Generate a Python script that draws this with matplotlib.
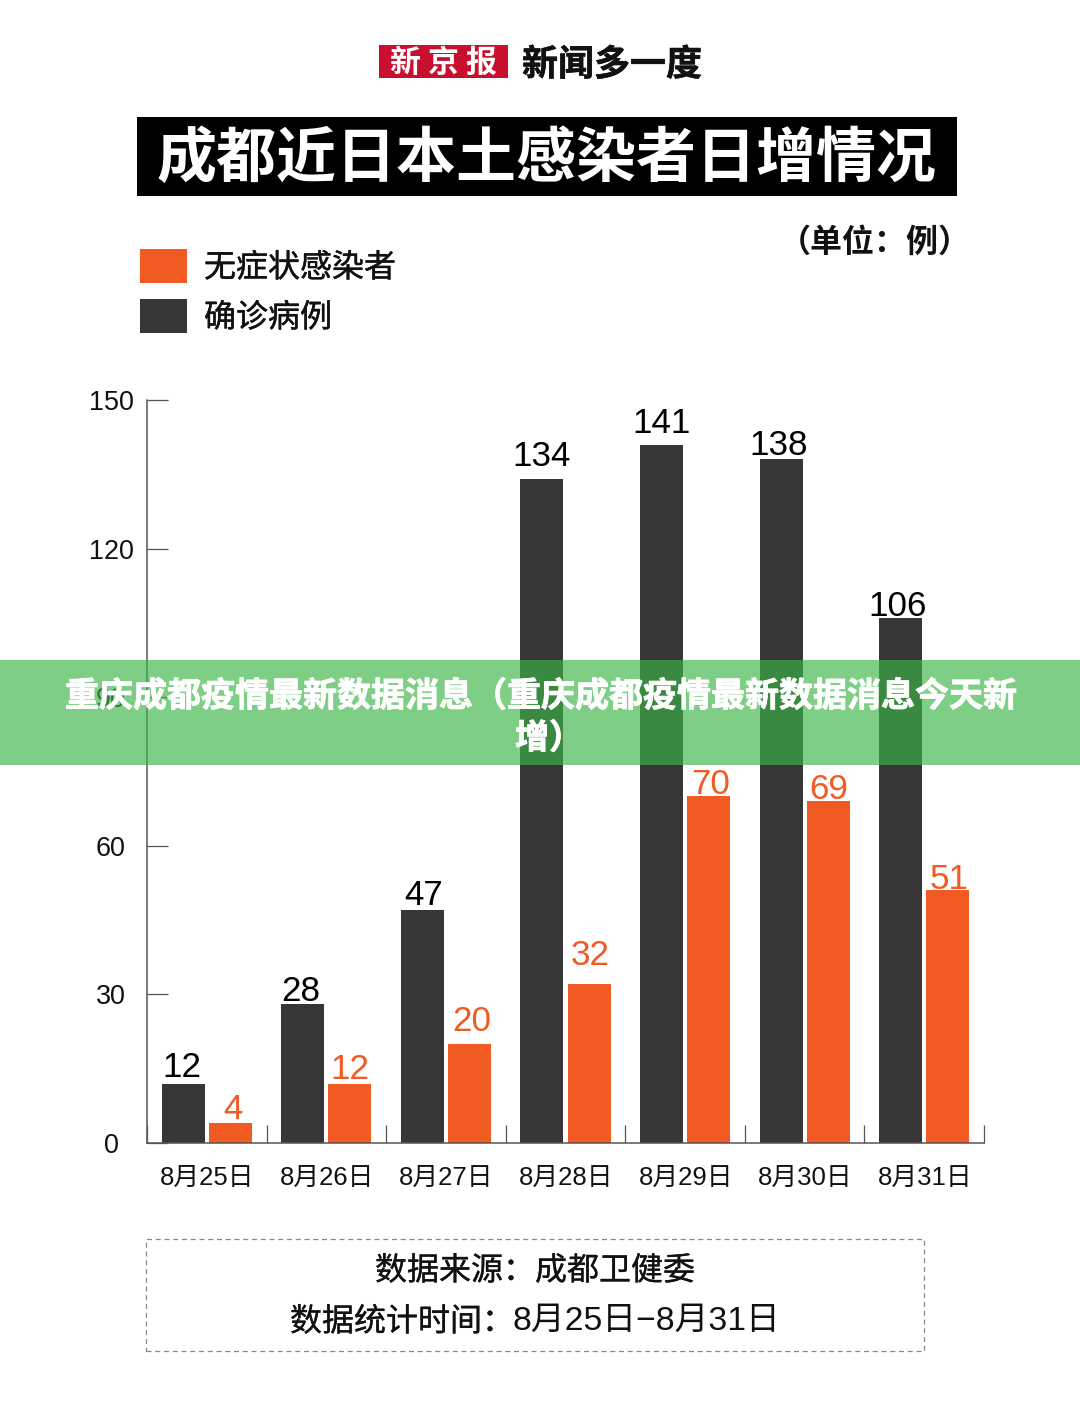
import matplotlib
matplotlib.use('Agg')
import matplotlib.pyplot as plt
import matplotlib.patheffects as pe
from matplotlib.patches import Rectangle
import numpy as np

dates = ['8月25日', '8月26日', '8月27日', '8月28日', '8月29日', '8月30日', '8月31日']
confirmed = [12, 28, 47, 134, 141, 138, 106]
asymptomatic = [4, 12, 20, 32, 70, 69, 51]
y_ticks = [0, 30, 60, 90, 120, 150]

# Hand-placed nudges of the value labels (pixels), as seen in the reference
confirmed_nudge = [(-1, 0), (-2, -4), (1, -2), (0, 6), (0, 5), (-2, -3), (-3, -5)]
asymptomatic_nudge = [(3, -3), (0, -2), (2, 6), (1, 12), (2, -5), (0, -5), (1, -6)]

W, H = 1080, 1427
DARK = '#363636'
ORANGE = '#F25A24'
FAM = ['Liberation Sans', 'Noto Sans CJK SC']
CJK = ['Noto Sans CJK SC', 'DejaVu Sans']
plt.rcParams['font.family'] = FAM

fig = plt.figure(figsize=(W / 100, H / 100), dpi=100, facecolor='white')


def px(size):
    return size * 72 / 100


def rect(x0, y0, x1, y1, **kw):
    r = Rectangle((x0 / W, 1 - y1 / H), (x1 - x0) / W, (y1 - y0) / H,
                  transform=fig.transFigure, **kw)
    fig.add_artist(r)
    return r


def label(x, y, s, size, stroke=0, **kw):
    kw.setdefault('ha', 'center')
    kw.setdefault('va', 'center')
    t = fig.text(x / W, 1 - y / H, s, fontsize=px(size), **kw)
    if stroke:
        t.set_path_effects([pe.withStroke(linewidth=stroke, foreground=t.get_color())])
    return t


# Masthead
rect(379, 45, 508, 78, facecolor='#C8102E', edgecolor='none')
label(443.5, 63, '新 京 报', 31, color='white', family=CJK, fontweight='bold')
label(612, 65, '新闻多一度', 36, color='#111111', family=CJK, fontweight='bold', stroke=0.4)

# Title
rect(137, 117, 957, 196, facecolor='black', edgecolor='none')
label(547, 159, '成都近日本土感染者日增情况', 60, color='white', family=CJK, fontweight='bold')

# Legend and unit
rect(140, 249, 187, 283, facecolor=ORANGE, edgecolor='none')
rect(140, 299, 187, 333, facecolor=DARK, edgecolor='none')
label(204, 268, '无症状感染者', 32, ha='left', color='#111111', family=CJK, stroke=0.3)
label(204, 318, '确诊病例', 32, ha='left', color='#111111', family=CJK, stroke=0.3)
label(875, 243, '（单位：例）', 32, color='#111111', family=CJK, fontweight='bold')

# Chart
ax = fig.add_axes([147 / W, 1 - 1143 / H, (984 - 147) / W, (1143 - 400) / H])
ax.set_facecolor('none')
x = np.arange(len(dates))
bw = 0.36
off = 0.197
ax.bar(x - off, confirmed, bw, color=DARK)
ax.bar(x + off, asymptomatic, bw, color=ORANGE)
for xi, v, (dx, dy) in zip(x - off, confirmed, confirmed_nudge):
    ax.annotate(str(v), (xi, v), xytext=(px(dx), px(dy)), textcoords='offset points',
                ha='center', va='bottom', fontsize=px(35), color='black')
for xi, v, (dx, dy) in zip(x + off, asymptomatic, asymptomatic_nudge):
    ax.annotate(str(v), (xi, v), xytext=(px(dx), px(dy)), textcoords='offset points',
                ha='center', va='bottom', fontsize=px(35), color=ORANGE)
ax.set_xlim(-0.5, len(dates) - 0.5)
ax.set_ylim(0, 150)
for s in ('top', 'right'):
    ax.spines[s].set_visible(False)
for s in ('left', 'bottom'):
    ax.spines[s].set_color('#555555')
    ax.spines[s].set_linewidth(1.1)
ax.set_yticks(y_ticks)
ax.tick_params(axis='y', direction='in', length=px(21), width=0.9, color='#555555',
               labelsize=px(27), pad=px(36), labelcolor='#111111')
for t in ax.get_yticklabels():
    t.set_ha('center')
ax.set_xticks(np.arange(len(dates) + 1) - 0.5, minor=False)
ax.set_xticklabels([''] * (len(dates) + 1))
ax.tick_params(axis='x', direction='in', length=px(18), width=0.9, color='#555555')
ax.set_xticks(x + 0.005, minor=True)
ax.set_xticklabels(dates, minor=True, fontsize=px(25.8), color='#111111')
ax.tick_params(axis='x', which='minor', length=0, pad=px(23))

# Footer
rect(146, 1239, 924, 1351, facecolor='none', edgecolor='#888888', linewidth=0.9, linestyle=(0, (4, 3)))
label(535, 1271, '数据来源：成都卫健委', 32, color='#111111', family=CJK, stroke=0.2)
label(290, 1322, '数据统计时间：', 32, ha='left', color='#111111', family=CJK, stroke=0.2)
label(512, 1321, '8月25日−8月31日', 33.8, ha='left', color='#111111', family=FAM)

# Overlay banner
rect(0, 660, 1080, 765, facecolor='#3CB646', edgecolor='none', alpha=0.66, zorder=10)
label(541, 696, '重庆成都疫情最新数据消息（重庆成都疫情最新数据消息今天新', 34,
      color='white', family=CJK, fontweight='bold', stroke=0.6, zorder=11)
label(549, 738, '增）', 34, color='white', family=CJK, fontweight='bold', stroke=0.6, zorder=11)

fig.savefig('out.png', dpi=100, facecolor='white')
